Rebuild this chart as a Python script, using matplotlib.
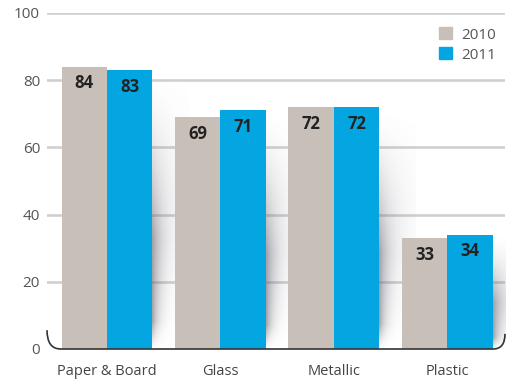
import numpy as np
import matplotlib
matplotlib.use("Agg")
import matplotlib.pyplot as plt
from matplotlib.path import Path
from matplotlib.patches import PathPatch, Patch

categories = ["Paper & Board", "Glass", "Metallic", "Plastic"]
series_names = ["2010", "2011"]
values_2010 = [84, 69, 72, 33]
values_2011 = [83, 71, 72, 34]
yticks = [0, 20, 40, 60, 80, 100]

c2010 = "#c9bfb9"
c2011 = "#04a6e1"
font = "Open Sans"

fig = plt.figure(figsize=(5.1, 3.83), dpi=100)
ax = fig.add_axes([47/510, 1-349/383, 458/510, 336/383])

x = np.arange(len(categories))
bw = 0.40

# gridlines
for yv in yticks[1:]:
    ax.axhline(yv, color="#d0d0d0", lw=1.9, zorder=0)

# soft shadows behind each group
for i, h in enumerate(values_2011):
    xr = x[i] + bw
    W = 0.32
    nx, ny = 80, 240
    xs = np.linspace(0, W, nx)
    ys = np.linspace(0, h, ny)
    X, Y = np.meshgrid(xs, ys)
    t = Y / h
    width = 0.035 + 0.16 * t
    g = np.clip(t / 0.1, 0, 1) * np.clip((1 - t) / 0.6, 0, 1) ** 1.6
    alpha = 0.65 * g * np.exp(-X / width)
    img = np.zeros((ny, nx, 4))
    img[..., 0] = 0.42
    img[..., 1] = 0.42
    img[..., 2] = 0.47
    img[..., 3] = alpha
    ax.imshow(img, extent=[xr, xr + W, 0, h], origin="lower",
              aspect="auto", zorder=1, interpolation="bilinear")

ax.bar(x - bw/2, values_2010, bw, color=c2010, zorder=2, label=series_names[0])
ax.bar(x + bw/2, values_2011, bw, color=c2011, zorder=2, label=series_names[1])

for xs_, vals in ((x - bw/2, values_2010), (x + bw/2, values_2011)):
    for xi, v in zip(xs_, vals):
        ax.annotate(str(v), (xi, v), xytext=(0, -12), textcoords="offset points",
                    ha="center", va="center", fontsize=12, fontweight="bold",
                    color="#222222", family=font, zorder=3)

ax.set_xlim(-0.53, 3.51)
ax.set_ylim(0, 100)
ax.set_xticks(x)
ax.set_xticklabels(categories, family=font, fontsize=10.5, color="#444444")
ax.set_yticks(yticks)
ax.set_yticklabels([str(v) for v in yticks], family=font, fontsize=11, color="#555555")
ax.tick_params(axis="both", length=0)
ax.tick_params(axis="x", pad=11)
ax.tick_params(axis="y", pad=5)
for s in ax.spines.values():
    s.set_visible(False)

# bottom bracket line with curved ends (axes coordinates)
verts = [(0.0, 0.056), (0.0, 0.0), (0.03, 0.0),
         (0.974, 0.0),
         (1.0, 0.0), (1.0, 0.045)]
codes = [Path.MOVETO, Path.CURVE3, Path.CURVE3, Path.LINETO, Path.CURVE3, Path.CURVE3]
ax.add_patch(PathPatch(Path(verts, codes), transform=ax.transAxes, fill=False,
                       edgecolor="#333333", lw=1.2, clip_on=False, zorder=4))

handles = [Patch(color=c2010), Patch(color=c2011)]
leg = ax.legend(handles, series_names, loc="upper right", bbox_to_anchor=(1.0, 0.985),
                frameon=False, prop={"family": font, "size": 11},
                handlelength=0.85, handleheight=0.85, handletextpad=0.6,
                labelspacing=0.3, borderaxespad=0.2)
for t in leg.get_texts():
    t.set_color("#555555")

fig.savefig("out.png", dpi=100)
